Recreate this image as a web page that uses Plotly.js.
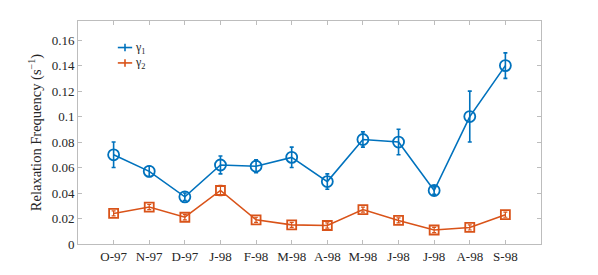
<!DOCTYPE html>
<html><head><meta charset="utf-8">
<script src="https://cdn.plot.ly/plotly-3.0.1.min.js"></script>
<style>html,body{margin:0;padding:0;background:#fff}</style>
</head><body><div id="chart" style="width:598px;height:275px"></div>
<script>
const months = ["O-97","N-97","D-97","J-98","F-98","M-98","A-98","M-98","J-98","J-98","A-98","S-98"];
const monthIndex = [1,2,3,4,5,6,7,8,9,10,11,12];
const gamma1 = [0.070,0.057,0.037,0.062,0.061,0.068,0.049,0.082,0.080,0.042,0.100,0.140];
const gamma1Err = [0.010,0.004,0.003,0.007,0.005,0.008,0.006,0.006,0.010,0.003,0.020,0.010];
const gamma2 = [0.024,0.029,0.021,0.042,0.019,0.015,0.0145,0.027,0.0185,0.011,0.013,0.023];
const gamma2Err = [0.002,0.002,0.002,0.004,0.002,0.002,0.002,0.002,0.002,0.002,0.002,0.002];
const seriesNames = ["γ<sub>1</sub>","γ<sub>2</sub>"];
const yTicks = [0,0.02,0.04,0.06,0.08,0.1,0.12,0.14,0.16];
const yTickText = ["0","0.02","0.04","0.06","0.08","0.1","0.12","0.14","0.16"];

const blue = "#0072BD", orange = "#D95319";
const colors = [blue, orange];
const FONT = "Liberation Serif";
const traces = [
  {x: monthIndex, y: gamma1, type:"scatter", mode:"lines+markers", showlegend:false,
   line:{color:blue,width:1.6},
   marker:{symbol:"circle-open",size:11,color:blue,line:{width:1.8,color:blue}},
   error_y:{type:"data",array:gamma1Err,visible:true,color:blue,thickness:1.6,width:2}},
  {x: monthIndex, y: gamma2, type:"scatter", mode:"lines+markers", showlegend:false,
   line:{color:orange,width:1.6},
   marker:{symbol:"square-open",size:9,color:orange,line:{width:1.8,color:orange}},
   error_y:{type:"data",array:gamma2Err,visible:true,color:orange,thickness:1.2,width:2}}
];
// custom legend (paper coordinates)
const legY = [0.881, 0.812];
const shapes = [], annotations = [];
legY.forEach((y, i) => {
  shapes.push({type:"line", xref:"paper", yref:"paper", x0:0.086, x1:0.117, y0:y, y1:y, line:{color:colors[i], width:1.6}});
  shapes.push({type:"line", xref:"paper", yref:"paper", x0:0.1015, x1:0.1015, y0:y-0.017, y1:y+0.017, line:{color:colors[i], width:1.6}});
  annotations.push({xref:"paper", yref:"paper", x:0.119, y:y, xanchor:"left", yanchor:"middle", showarrow:false,
    text:seriesNames[i], font:{family:FONT, size:12, color:"#262626"}});
});
const axisFont = {family:FONT, size:13, color:"#262626"};
const layout = {
  width:598, height:275,
  margin:{l:78,r:57,t:21,b:31},
  paper_bgcolor:"#fff", plot_bgcolor:"#fff",
  font: axisFont,
  showlegend:false,
  shapes: shapes, annotations: annotations,
  xaxis:{range:[0,13], tickvals:monthIndex, ticktext:months, showline:true, linecolor:"#bdbdbd", linewidth:1,
    mirror:"ticks", ticks:"inside", ticklen:4, tickcolor:"#bdbdbd", showgrid:false, zeroline:false,
    tickfont:axisFont},
  yaxis:{range:[0,0.175], tickvals:yTicks, ticktext:yTickText, showline:true, linecolor:"#bdbdbd", linewidth:1,
    mirror:"ticks", ticks:"inside", ticklen:4, tickcolor:"#bdbdbd", showgrid:false, zeroline:false,
    tickfont:axisFont,
    title:{text:"Relaxation Frequency (s<sup>−1</sup>)", font:{family:FONT,size:14.5,color:"#262626"}, standoff:6}}
};
Plotly.newPlot("chart", traces, layout, {displayModeBar:false, staticPlot:true});
</script></body></html>
